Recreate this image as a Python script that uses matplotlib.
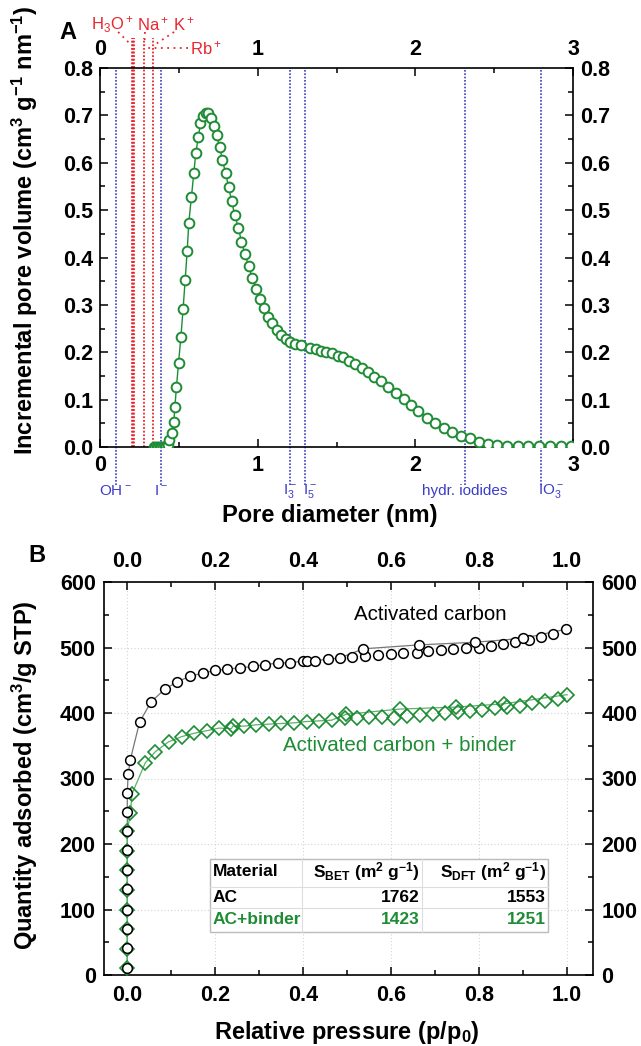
import numpy as np
import matplotlib.pyplot as plt
from matplotlib.ticker import MultipleLocator

plt.rcParams['font.family'] = ['Liberation Sans', 'DejaVu Sans']
plt.rcParams['mathtext.default'] = 'regular'

GREEN = '#1e8c34'
BLUE = '#3c3cc8'
RED = '#e8262e'

# ---- panel A: pore size distribution ----
pore_d = [0.34, 0.35, 0.36, 0.37, 0.38, 0.39, 0.40, 0.41, 0.42,
          0.432, 0.44, 0.454, 0.468, 0.475, 0.485, 0.498, 0.513, 0.527, 0.540,
          0.553, 0.563, 0.580, 0.595, 0.608, 0.624, 0.637, 0.654, 0.671, 0.688,
          0.703, 0.722, 0.739, 0.759, 0.776, 0.797, 0.816, 0.835, 0.854, 0.878,
          0.897, 0.920, 0.943, 0.966, 0.992, 1.017, 1.040, 1.065, 1.093, 1.120,
          1.148, 1.177, 1.207, 1.234, 1.277, 1.329, 1.367, 1.403, 1.435, 1.470,
          1.508, 1.544, 1.582, 1.620, 1.660, 1.700, 1.741, 1.783, 1.825, 1.878,
          1.926, 1.973, 2.019, 2.072, 2.127, 2.179, 2.232, 2.287, 2.346, 2.405,
          2.462, 2.521, 2.584, 2.650, 2.717, 2.785, 2.852, 2.922, 2.985]
pore_v = [0.0, 0.0, 0.0, 0.0, 0.0, 0.0, 0.001, 0.001, 0.002,
          0.004, 0.015, 0.029, 0.053, 0.085, 0.127, 0.177, 0.232, 0.291, 0.352,
          0.414, 0.473, 0.528, 0.579, 0.621, 0.655, 0.683, 0.699, 0.706, 0.705,
          0.694, 0.678, 0.659, 0.633, 0.606, 0.578, 0.548, 0.519, 0.490, 0.463,
          0.433, 0.407, 0.382, 0.357, 0.334, 0.312, 0.293, 0.275, 0.261, 0.247,
          0.236, 0.229, 0.222, 0.218, 0.215, 0.210, 0.207, 0.203, 0.201, 0.198,
          0.193, 0.189, 0.182, 0.175, 0.167, 0.159, 0.148, 0.139, 0.127, 0.115,
          0.101, 0.089, 0.076, 0.062, 0.051, 0.041, 0.031, 0.023, 0.018, 0.011,
          0.007, 0.004, 0.003, 0.003, 0.003, 0.003, 0.003, 0.003, 0.003]

# ion sizes (nm)
cation_d = [0.200, 0.208, 0.216, 0.282, 0.335]
anion_d = [0.10, 0.39, 1.203, 1.30, 2.316, 2.80]

# ---- panel B: N2 isotherms ----
ac_ads_p = [0.0, 0.0, 0.0, 0.0, 0.0, 0.0, 0.0, 0.0, 0.0, 0.0, 0.002, 0.007,
            0.028, 0.054, 0.085, 0.114, 0.143, 0.172, 0.200, 0.228, 0.257,
            0.286, 0.314, 0.342, 0.371, 0.399, 0.410, 0.428, 0.456, 0.484,
            0.511, 0.541, 0.571, 0.600, 0.628, 0.659, 0.685, 0.714, 0.742,
            0.770, 0.800, 0.828, 0.855, 0.883, 0.914, 0.942, 0.970, 0.999]
ac_ads_q = [10, 41, 70, 100, 131, 160, 191, 220, 249, 278, 307, 329,
            386, 417, 436, 448, 456, 461, 465, 467, 469,
            471, 474, 476, 477, 479, 479, 480, 482, 484,
            485, 487, 488, 490, 491, 491, 494, 496, 497,
            499, 500, 503, 505, 508, 512, 516, 520, 528]
ac_des_p = [0.537, 0.664, 0.791, 0.901]
ac_des_q = [498, 504, 508, 514]

acb_ads_p = [0.0, 0.0, 0.0, 0.0, 0.0, 0.0, 0.0, 0.0, 0.007, 0.011,
             0.041, 0.064, 0.094, 0.124, 0.152, 0.181, 0.209, 0.237, 0.240,
             0.266, 0.294, 0.323, 0.351, 0.380, 0.408, 0.437, 0.465, 0.495,
             0.522, 0.551, 0.579, 0.608, 0.637, 0.666, 0.695, 0.723, 0.753,
             0.780, 0.808, 0.836, 0.865, 0.893, 0.921, 0.950, 0.980, 1.001]
acb_ads_q = [10, 40, 70, 100, 130, 160, 190, 220, 247, 277,
             324, 341, 356, 364, 369, 373, 377, 376, 380,
             380, 382, 383, 384, 385, 387, 388, 389, 392,
             392, 394, 394, 393, 395, 397, 399, 400, 402,
             403, 405, 407, 409, 411, 415, 419, 422, 428]
acb_des_p = [0.498, 0.620, 0.748, 0.857]
acb_des_q = [398, 406, 409, 414]

table_cols = ['Material', r'S$_{BET}$ (m$^2$ g$^{-1}$)', r'S$_{DFT}$ (m$^2$ g$^{-1}$)']
table_rows = [['AC', '1762', '1553'], ['AC+binder', '1423', '1251']]
row_colors = ['black', GREEN]

W, H = 641, 1046
fig = plt.figure(figsize=(W / 100, H / 100), dpi=100)


def px_axes(l, t, r, b):
    return fig.add_axes([l / W, 1 - b / H, (r - l) / W, (b - t) / H])


def style_axes(ax, xpad, ypad):
    for s in ax.spines.values():
        s.set_linewidth(1.2)
    ax.tick_params(which='both', direction='in', top=True, right=True,
                   labeltop=True, labelright=True, width=1.1)
    ax.tick_params(which='major', length=6)
    ax.tick_params(which='minor', length=3.5)
    ax.tick_params(axis='x', pad=xpad)
    ax.tick_params(axis='y', pad=ypad)
    for lab in ax.get_xticklabels() + ax.get_yticklabels():
        lab.set_fontweight('bold')
        lab.set_fontsize(15.5)


# ================= A =================
axA = px_axes(100, 68, 573, 447)
axA.plot(pore_d, pore_v, '-', color=GREEN, lw=1.0, marker='o', ms=7,
         mfc='white', mec=GREEN, mew=1.4, zorder=3)
axA.set_xlim(0, 3)
axA.set_ylim(0, 0.8)
axA.xaxis.set_major_locator(MultipleLocator(1))
axA.xaxis.set_minor_locator(MultipleLocator(0.5))
axA.yaxis.set_major_locator(MultipleLocator(0.1))
axA.yaxis.set_minor_locator(MultipleLocator(0.05))
axA.set_yticks(np.arange(0, 0.81, 0.1))
axA.set_yticklabels(['%.1f' % v for v in np.arange(0, 0.81, 0.1)])
style_axes(axA, 6, 5)

trA = axA.get_xaxis_transform()
for d in cation_d:
    axA.plot([d, d], [0, 1.08], ls=(0, (1, 1)), color=RED, lw=1.3,
             transform=trA, clip_on=False, zorder=2)
for d in anion_d:
    axA.plot([d, d], [-0.1, 1.0], ls=(0, (1, 1)), color=BLUE, lw=1.2,
             transform=trA, clip_on=False, zorder=2)

# leader dots for cation labels (axes-fraction y)
leaders = [([0.115, 0.20], [1.095, 1.06]),
           ([0.285, 0.282], [1.095, 1.06]),
           ([0.47, 0.36], [1.095, 1.065]),
           ([0.56, 0.30], [1.053, 1.053])]
for xs, ys in leaders:
    axA.plot(xs, ys, ls=(0, (1, 2.5)), color=RED, lw=1.3,
             transform=trA, clip_on=False)

red_labels = [(0.076, 1.115, r'H$_3$O$^+$'), (0.335, 1.115, r'Na$^+$'),
              (0.53, 1.115, r'K$^+$'), (0.67, 1.053, r'Rb$^+$')]
for x, y, s in red_labels:
    axA.text(x, y, s, color=RED, fontsize=12, ha='center', va='center',
             transform=trA, clip_on=False)

blue_labels = [(0.10, 'center', r'OH$^-$'), (0.39, 'center', r'I$^-$'),
               (1.203, 'center', r'I$_3^-$'), (1.33, 'center', r'I$_5^-$'),
               (2.316, 'center', 'hydr. iodides'), (2.775, 'left', r'IO$_3^-$')]
for x, ha, s in blue_labels:
    axA.text(x, -0.115, s, color=BLUE, fontsize=11, ha=ha, va='center',
             transform=trA, clip_on=False)

fig.text(68 / W, 1 - 33 / H, 'A', fontsize=17, fontweight='bold',
         ha='center', va='center')
fig.text(25 / W, 1 - 230 / H,
         r'Incremental pore volume (cm$^3$ g$^{-1}$ nm$^{-1}$)',
         rotation=90, fontsize=17, fontweight='bold', ha='center', va='center')
fig.text(330 / W, 1 - 515 / H, 'Pore diameter (nm)', fontsize=17,
         fontweight='bold', ha='center', va='center')

# ================= B =================
axB = px_axes(104, 582, 593, 975)
axB.grid(True, color='#d4d4d4', ls=(0, (1, 2)), lw=0.8)
axB.set_axisbelow(True)

ac_line_p = [p for p in ac_ads_p if p < 0.5] + ac_des_p + [ac_ads_p[-1]]
ac_line_q = [q for p, q in zip(ac_ads_p, ac_ads_q) if p < 0.5] + ac_des_q + [ac_ads_q[-1]]
acb_line_p = [p for p in acb_ads_p if p < 0.48] + acb_des_p + [acb_ads_p[-1]]
acb_line_q = [q for p, q in zip(acb_ads_p, acb_ads_q) if p < 0.48] + acb_des_q + [acb_ads_q[-1]]

axB.plot(ac_line_p, ac_line_q, '-', color='#777777', lw=0.9, zorder=2)
axB.plot(acb_line_p, acb_line_q, '-', color='#5cb06a', lw=0.9, zorder=2)
axB.plot(acb_ads_p + acb_des_p, acb_ads_q + acb_des_q, 'D', ls='none', ms=6.8,
         mfc='none', mec=GREEN, mew=1.2, zorder=3)
axB.plot(ac_ads_p + ac_des_p, ac_ads_q + ac_des_q, 'o', ls='none', ms=7,
         mfc='white', mec='black', mew=1.1, zorder=4)

axB.set_xlim(-0.053, 1.06)
axB.set_ylim(0, 600)
axB.xaxis.set_major_locator(MultipleLocator(0.2))
axB.xaxis.set_minor_locator(MultipleLocator(0.1))
axB.yaxis.set_major_locator(MultipleLocator(100))
axB.yaxis.set_minor_locator(MultipleLocator(50))
axB.set_xticks(np.arange(0, 1.01, 0.2))
axB.set_xticklabels(['%.1f' % v for v in np.arange(0, 1.01, 0.2)])
style_axes(axB, 7, 6)

axB.text(0.69, 551, 'Activated carbon', fontsize=14.8, ha='center', va='center')
axB.text(0.62, 351, 'Activated carbon + binder', fontsize=14.8, color=GREEN,
         ha='center', va='center')

# table drawn in figure pixels
tl, tr_, tt, tb = 210, 548, 859, 932
row_y = [872, 897, 920]
col_x = [(213, 'left'), (420, 'right'), (546, 'right')]
fig.add_artist(plt.Rectangle((tl / W, 1 - tb / H), (tr_ - tl) / W, (tb - tt) / H,
                             transform=fig.transFigure, fc='white',
                             ec='#bbbbbb', lw=1.0, zorder=5))
for yy in [887, 908]:
    fig.add_artist(plt.Line2D([tl / W, tr_ / W], [1 - yy / H] * 2,
                              color='#dddddd', lw=0.8, zorder=6))
for xx in [302, 422]:
    fig.add_artist(plt.Line2D([xx / W] * 2, [1 - tt / H, 1 - tb / H],
                              color='#dddddd', lw=0.8, zorder=6))
for (x, ha), s in zip(col_x, table_cols):
    fig.text(x / W, 1 - row_y[0] / H, s, fontsize=12.5, fontweight='bold',
             ha=ha, va='center', zorder=7)
for r, row in enumerate(table_rows):
    for (x, ha), s in zip(col_x, row):
        fig.text(x / W, 1 - row_y[r + 1] / H, s, fontsize=12.5, fontweight='bold',
                 color=row_colors[r], ha=ha, va='center', zorder=7)

fig.text(37 / W, 1 - 555 / H, 'B', fontsize=17, fontweight='bold',
         ha='center', va='center')
fig.text(25 / W, 1 - 775 / H, r'Quantity adsorbed (cm$^3$/g STP)', rotation=90,
         fontsize=17, fontweight='bold', ha='center', va='center')
fig.text(347 / W, 1 - 1032 / H, r'Relative pressure (p/p$_0$)', fontsize=17,
         fontweight='bold', ha='center', va='center')

fig.savefig('out.png', dpi=100)
